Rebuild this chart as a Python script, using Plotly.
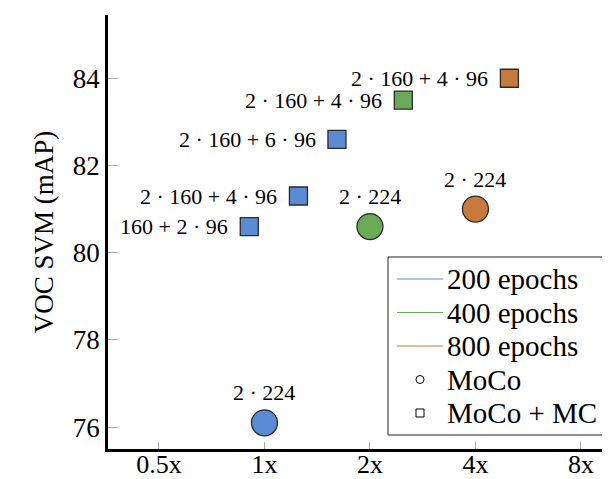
import math
import plotly.graph_objects as go

# ---- data ----
epochs = ["200 epochs", "400 epochs", "800 epochs"]
colors = ["#5b8bd5", "#6aaa56", "#c87a3d"]
methods = ["MoCo", "MoCo + MC"]

# MoCo (circles)
moco_x = [1.0, 2.0, 4.0]
moco_y = [76.1, 80.6, 81.0]
moco_labels = ["2 · 224", "2 · 224", "2 · 224"]
moco_epoch = [0, 1, 2]

# MoCo + MC (squares)
mc_x = [0.905, 1.25, 1.61, 2.49, 5.0]
mc_y = [80.6, 81.3, 82.6, 83.5, 84.0]
mc_labels = ["160 + 2 · 96", "2 · 160 + 4 · 96", "2 · 160 + 6 · 96",
             "2 · 160 + 4 · 96", "2 · 160 + 4 · 96"]
mc_epoch = [0, 0, 0, 1, 2]

xtick_vals = [0.5, 1, 2, 4, 8]
xtick_text = ["0.5x", "1x", "2x", "4x", "8x"]
ytick_vals = [76, 78, 80, 82, 84]

FONT = "Liberation Serif"
# page body has an 8px margin, so the figure is sized/placed to compensate
OFF = 8
W, H = 610 - OFF, 479 - OFF
ML, MR, MT, MB = 100, 0, 7, 30
PW, PH = W - ML - MR, H - MT - MB


def px(x):
    """reference-picture pixel x -> paper coordinate"""
    return (x - OFF - ML) / PW


def py(y):
    """reference-picture pixel y -> paper coordinate"""
    return (H - MB - (y - OFF)) / PH


fig = go.Figure()

fig.add_trace(go.Scatter(
    x=moco_x, y=moco_y, mode="markers",
    marker=dict(symbol="circle", size=26,
                color=[colors[i] for i in moco_epoch],
                line=dict(color="#2a2a2a", width=1.3)),
    showlegend=False, cliponaxis=False, hoverinfo="skip"))
fig.add_trace(go.Scatter(
    x=mc_x, y=mc_y, mode="markers",
    marker=dict(symbol="square", size=18,
                color=[colors[i] for i in mc_epoch],
                line=dict(color="#2a2a2a", width=1.3)),
    showlegend=False, cliponaxis=False, hoverinfo="skip"))

annotations = []
for x, y, t in zip(moco_x, moco_y, moco_labels):
    annotations.append(dict(x=math.log10(x), y=y, xref="x", yref="y", text=t,
                            showarrow=False, xanchor="center", yanchor="middle",
                            yshift=30,
                            font=dict(family=FONT, size=22, color="black")))
for x, y, t in zip(mc_x, mc_y, mc_labels):
    annotations.append(dict(x=math.log10(x), y=y, xref="x", yref="y", text=t,
                            showarrow=False, xanchor="right", yanchor="middle",
                            xshift=-19,
                            font=dict(family=FONT, size=22, color="black")))

# ---- manual legend ----
shapes = []
lx0, lx1, ly0, ly1 = 388, 608, 257, 435
shapes.append(dict(type="rect", xref="paper", yref="paper",
                   x0=px(lx0), x1=px(lx1), y0=py(ly1), y1=py(ly0),
                   line=dict(color="#222222", width=1), fillcolor="white", layer="above"))
rows = [279, 312.5, 346, 379.5, 413]
legend_names = epochs + methods
for i, (name, ry) in enumerate(zip(legend_names, rows)):
    if i < 3:
        shapes.append(dict(type="line", xref="paper", yref="paper",
                           x0=px(397), x1=px(443), y0=py(ry), y1=py(ry),
                           line=dict(color=colors[i], width=1), layer="above"))
    elif i == 3:
        shapes.append(dict(type="circle", xref="paper", yref="paper",
                           x0=px(416), x1=px(424), y0=py(ry + 4), y1=py(ry - 4),
                           line=dict(color="black", width=1), layer="above"))
    else:
        shapes.append(dict(type="rect", xref="paper", yref="paper",
                           x0=px(416), x1=px(424), y0=py(ry + 4), y1=py(ry - 4),
                           line=dict(color="black", width=1), layer="above"))
    annotations.append(dict(x=px(445), y=py(ry), xref="paper", yref="paper",
                            text=name, showarrow=False, xanchor="left", yanchor="middle",
                            font=dict(family=FONT, size=29, color="black")))

fig.update_layout(
    width=W, height=H,
    margin=dict(l=ML, r=MR, t=MT, b=MB),
    plot_bgcolor="white", paper_bgcolor="white",
    font=dict(family=FONT, size=27, color="black"),
    showlegend=False,
    annotations=annotations, shapes=shapes,
)
fig.update_xaxes(
    type="log", range=[-0.4465, 0.986], automargin=False,
    tickvals=xtick_vals, ticktext=xtick_text,
    showline=True, linecolor="black", linewidth=2.5,
    ticks="inside", ticklen=7, tickcolor="#aaaaaa", tickwidth=1,
    showgrid=False, zeroline=False, ticklabelstandoff=-10,
    tickfont=dict(family=FONT, size=26))
fig.update_yaxes(
    range=[75.5, 85.45], tickvals=ytick_vals, automargin=False,
    showline=True, linecolor="black", linewidth=2.5,
    ticks="inside", ticklen=10, tickcolor="#aaaaaa", tickwidth=1,
    showgrid=False, zeroline=False,
    tickfont=dict(family=FONT, size=27),
    title=dict(text="VOC SVM (mAP)", font=dict(family=FONT, size=27), standoff=12))

fig.write_html("out.html")
